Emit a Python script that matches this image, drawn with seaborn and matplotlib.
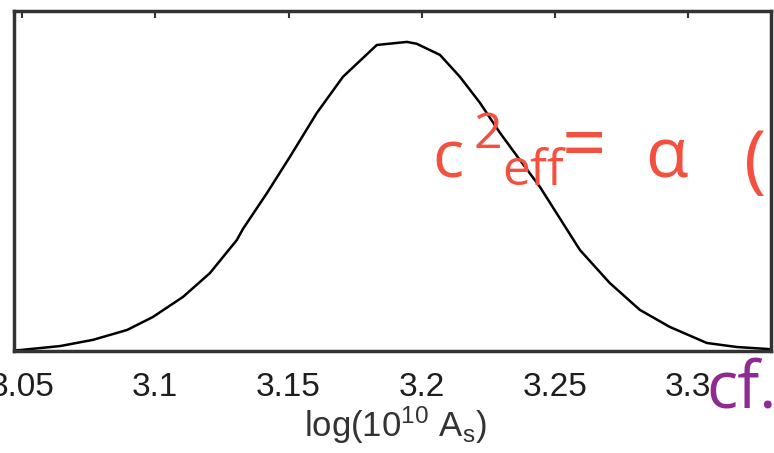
import numpy as np
import pandas as pd
import seaborn as sns
import matplotlib.pyplot as plt

# marginalised posterior (peak normalised to 1)
log_as = [3.0470, 3.0493, 3.0643, 3.0766, 3.0894, 3.0991, 3.1104, 3.1205, 3.1306,
          3.1329, 3.1419, 3.1505, 3.1606, 3.1704, 3.1831, 3.1944, 3.1981, 3.2068,
          3.2143, 3.2218, 3.2293, 3.2368, 3.2443, 3.2529, 3.2593, 3.2705, 3.2818,
          3.2930, 3.3069, 3.3181, 3.3305]
posterior = [0.002, 0.003, 0.016, 0.036, 0.068, 0.110, 0.175, 0.252, 0.359,
             0.395, 0.511, 0.628, 0.770, 0.887, 0.990, 1.000, 0.994, 0.958,
             0.887, 0.803, 0.706, 0.618, 0.531, 0.414, 0.327, 0.220, 0.133,
             0.078, 0.026, 0.013, 0.006]
xticks = [3.05, 3.1, 3.15, 3.2, 3.25, 3.3]
xtick_labels = ['3.05', '3.1', '3.15', '3.2', '3.25', '3.3']

df = pd.DataFrame({'log_as': log_as, 'posterior': posterior})

sns.set_style('white')
plt.rcParams['font.family'] = ['Liberation Sans', 'DejaVu Sans']
plt.rcParams['mathtext.fontset'] = 'custom'
plt.rcParams['mathtext.rm'] = 'Liberation Sans'
plt.rcParams['mathtext.it'] = 'Liberation Sans'

W, H = 774, 453
fig = plt.figure(figsize=(W / 100, H / 100), dpi=100)
ax = fig.add_axes([14 / W, 1 - 351 / H, 757 / W, 340 / H])

sns.lineplot(data=df, x='log_as', y='posterior', color='black', linewidth=1.8, ax=ax)

ax.set_xlim(3.047, 3.331)
ax.set_ylim(0, 1.1)
ax.set_xticks(xticks)
ax.set_xticklabels(xtick_labels, fontsize=24, color='#1e1e1e')
ax.set_yticks([])
ax.set_ylabel('')
ax.tick_params(axis='x', direction='in', top=True, length=5, width=1.5,
               color='#333333', pad=15)
for s in ax.spines.values():
    s.set_color('#333333')
    s.set_linewidth(2.5)

ax.set_xlabel(r'log(10$^{\mathrm{10}}$ A$_{\mathrm{s}}$)', fontsize=25, color='#333333',
              va='baseline')
ax.xaxis.set_label_coords((395 - 14) / 757, (351 - 437) / 340)

# slide overlay text
red = '#f4503f'
purple = '#8e2a91'
def ftext(px, py, s, size, color):
    fig.text(px / W, 1 - py / H, s, fontsize=size, color=color,
             family=['Open Sans', 'DejaVu Sans'], va='baseline', ha='left')

ftext(432, 178, 'c', 47, red)
ftext(473, 148, '2', 36, red)
ftext(502, 185, 'eff', 36, red)
ftext(562, 170, '=', 56, red)
ftext(645, 178, 'α', 50, red)
ftext(744, 184, '(', 54, red)
ftext(706, 408, 'cf.', 47, purple)

fig.savefig('out.png', dpi=100)
plt.close()
